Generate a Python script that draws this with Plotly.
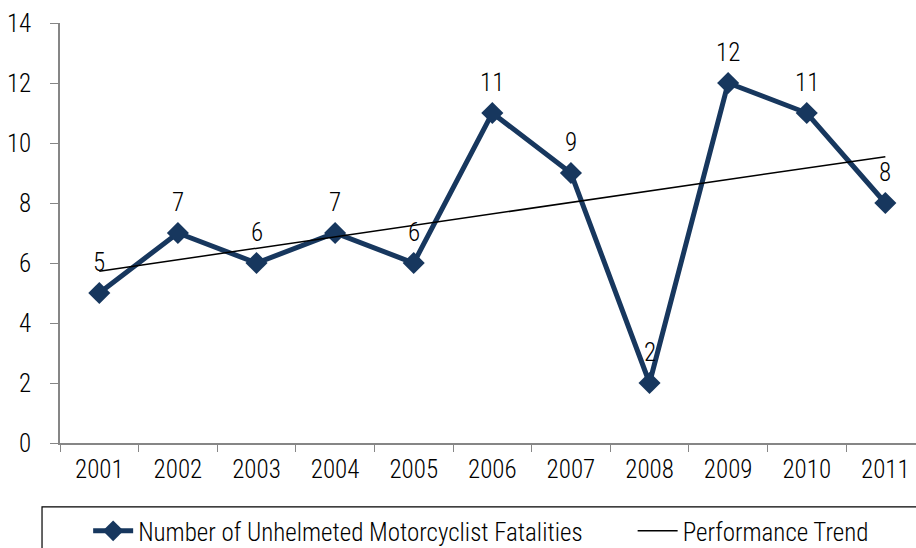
import numpy as np
import plotly.graph_objects as go

years = ["2001", "2002", "2003", "2004", "2005", "2006", "2007", "2008", "2009", "2010", "2011"]
fatalities = [5, 7, 6, 7, 6, 11, 9, 2, 12, 11, 8]
y_ticks = [0, 2, 4, 6, 8, 10, 12, 14]

# linear trendline (least squares) as in the original spreadsheet chart
idx = np.arange(len(years))
slope, intercept = np.polyfit(idx, fatalities, 1)
trend = list(slope * idx + intercept)

FONT = "Liberation Sans Narrow, Arial Narrow, Roboto Condensed, Liberation Sans, sans-serif"
NAVY = "#17375E"
FS = 25
W = 300

fig = go.Figure()
fig.add_trace(go.Scatter(
    x=years, y=fatalities, mode="lines+markers",
    name="Number of Unhelmeted Motorcyclist Fatalities" + "\u00a0" * 8,
    line=dict(color=NAVY, width=5),
    marker=dict(symbol="diamond", size=17, color=NAVY),
))
fig.add_trace(go.Scatter(
    x=[years[0], years[-1]], y=[trend[0], trend[-1]], mode="lines",
    name="Performance Trend",
    line=dict(color="black", width=1.5),
))

for i, v in enumerate(fatalities):
    fig.add_annotation(x=i, y=v, xref="x", yref="y", text=str(v), showarrow=False, yshift=31,
                       font=dict(family=FONT, size=FS, color="black", weight=W))

fig.add_shape(type="rect", xref="paper", yref="paper",
              x0=-0.021, x1=1.02, y0=-0.152, y1=-0.40,
              line=dict(color="black", width=1.2), fillcolor="rgba(0,0,0,0)")

fig.update_layout(
    width=916, height=548,
    margin=dict(l=60, r=0, t=23, b=105, autoexpand=False),
    plot_bgcolor="white", paper_bgcolor="white",
    font=dict(family=FONT, size=FS, color="black", weight=W),
    showlegend=True,
    legend=dict(orientation="h", x=0.492, xanchor="center", y=-0.155, yanchor="top",
                font=dict(family=FONT, size=FS, color="black", weight=W),
                bgcolor="rgba(0,0,0,0)", itemwidth=40, tracegroupgap=0),
    xaxis=dict(type="category", range=[-0.5, 10.39], showline=True, linecolor="#868686",
               linewidth=1.5, ticks="outside", ticklen=7, tickcolor="#868686",
               tickson="boundaries", showgrid=False, zeroline=False, automargin=False,
               ticklabelstandoff=3, tickfont=dict(family=FONT, size=FS, weight=W)),
    yaxis=dict(range=[0, 14], tickvals=y_ticks, showline=True, linecolor="#868686",
               linewidth=1.5, ticks="outside", ticklen=8, tickcolor="#868686",
               showgrid=False, zeroline=False, automargin=False,
               ticklabelstandoff=14, tickfont=dict(family=FONT, size=FS, weight=W)),
)

fig.write_html("out.html", config={"displayModeBar": False},
               post_script="document.body.style.margin='0';")
